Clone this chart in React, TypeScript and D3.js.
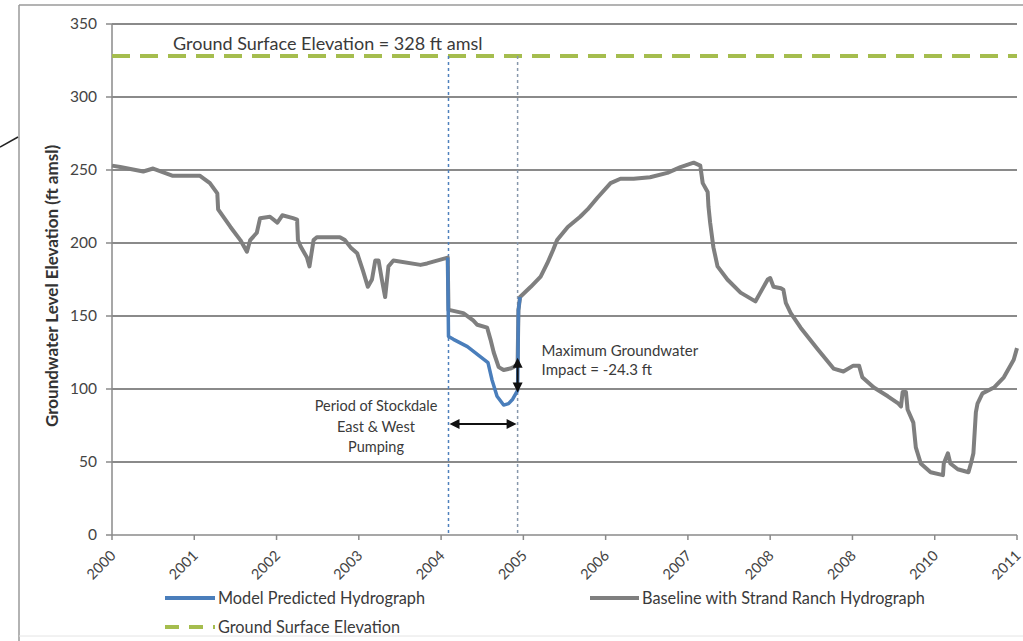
import React from "react";
import * as d3 from "d3";

const baselineYears = [2000.0,2000.1,2000.38,2000.5,2000.74,2001.07,2001.19,2001.28,2001.29,2001.44,2001.56,2001.64,2001.68,2001.76,2001.8,2001.92,2002.01,2002.07,2002.2,2002.25,2002.26,2002.29,2002.37,2002.4,2002.45,2002.49,2002.77,2002.83,2002.9,2002.98,2003.05,2003.11,2003.16,2003.2,2003.24,2003.28,2003.32,2003.36,2003.42,2003.75,2003.83,2004.08,2004.09,2004.11,2004.27,2004.39,2004.44,2004.56,2004.6,2004.64,2004.7,2004.76,2004.84,2004.88,2004.93,2004.94,2004.96,2005.09,2005.21,2005.29,2005.36,2005.41,2005.54,2005.69,2005.78,2005.9,2006.06,2006.18,2006.34,2006.54,2006.75,2006.91,2007.07,2007.15,2007.18,2007.24,2007.25,2007.27,2007.31,2007.36,2007.48,2007.64,2007.82,2007.88,2007.97,2008.0,2008.04,2008.13,2008.16,2008.19,2008.25,2008.37,2008.58,2008.77,2008.89,2009.01,2009.08,2009.12,2009.26,2009.43,2009.56,2009.59,2009.61,2009.65,2009.67,2009.74,2009.77,2009.83,2009.95,2010.1,2010.11,2010.16,2010.19,2010.28,2010.41,2010.44,2010.47,2010.5,2010.52,2010.58,2010.72,2010.84,2010.96,2011.0];
const baselineValues = [253,252,249,251,246,246,241,234,223,211,202,194,202,207,217,218,214,219,217,216,202,198,190,184,202,204,204,202,197,193,181,170,175,188,188,175,163,184,188,185,186,190,154,154,152,147,144,142,134,125,115,113,114,115,117,154,163,170,177,186,195,202,211,218,223,231,241,244,244,245,248,252,255,253,241,235,225,214,197,184,175,166,160,166,175,176,170,169,168,159,152,142,127,114,112,116,116,108,101,95,90,88,98,98,86,77,60,49,43,41,49,56,49,45,43,49,56,84,90,97,101,108,120,128];

const modelYears = [2004.08,2004.09,2004.15,2004.32,2004.48,2004.57,2004.62,2004.68,2004.76,2004.82,2004.87,2004.93,2004.94,2004.96];
const modelValues = [190,136,134,129,122,118,106,95,89,90,93,99,154,163];

const groundSurface = 328;
const pumpStart = 2004.09;
const pumpEnd = 2004.93;
const impactTop = 120;
const impactBottom = 99;
const periodArrowLevel = 76;

const yTicks = [0, 50, 100, 150, 200, 250, 300, 350];
const xTickYears = [2000,2001,2002,2003,2004,2005,2006,2007,2008,2009,2010,2011];
const xTickLabels = ["2000","2001","2002","2003","2004","2005","2006","2007","2008","2008","2010","2011"];

const FONT = "Lato, 'Open Sans', sans-serif";

export default function App() {
  const W = 1023, H = 641;
  const x = d3.scaleLinear().domain([2000, 2011]).range([112, 1017]);
  const y = d3.scaleLinear().domain([0, 350]).range([535, 24]);

  const line = d3.line<[number, number]>().x(d => x(d[0])).y(d => y(d[1]));
  const baseline = baselineYears.map((t, i) => [t, baselineValues[i]] as [number, number]);
  const model = modelYears.map((t, i) => [t, modelValues[i]] as [number, number]);

  const gridColor = "#8a8a8a";
  const axisColor = "#8a8a8a";
  const textColor = "#3a3a3a";

  const ax = x(pumpEnd);
  const hy = y(periodArrowLevel);

  return (
    <svg width={W} height={H} style={{ position: "absolute", left: 0, top: 0, background: "#fff" }} fontFamily={FONT}>
      <rect x={0} y={0} width={W} height={H} fill="#fff" />
      {/* frame */}
      <line x1={19} y1={5} x2={W} y2={5} stroke="#9a9a9a" strokeWidth={1.5} />
      <line x1={19} y1={5} x2={19} y2={H} stroke="#9a9a9a" strokeWidth={1.5} />
      <line x1={19} y1={636} x2={W} y2={636} stroke="#e4e4e4" strokeWidth={1} />
      <line x1={0} y1={147} x2={18} y2={137} stroke="#222" strokeWidth={1.5} />

      {/* grid */}
      {yTicks.filter(v => v > 0).map(v => (
        <line key={v} x1={x(2000)} x2={x(2011)} y1={y(v)} y2={y(v)} stroke={gridColor} strokeWidth={2} />
      ))}
      {/* axes */}
      <line x1={x(2000)} x2={x(2000)} y1={y(350)} y2={y(0)} stroke={axisColor} strokeWidth={1.5} />
      <line x1={x(2000)} x2={x(2011)} y1={y(0)} y2={y(0)} stroke={axisColor} strokeWidth={1.5} />
      {yTicks.map(v => (
        <g key={v}>
          <line x1={x(2000) - 6} x2={x(2000)} y1={y(v)} y2={y(v)} stroke={axisColor} strokeWidth={1.5} />
          <text x={x(2000) - 15} y={y(v)} dy="0.35em" textAnchor="end" fontSize={15.5} fill="#444">{v}</text>
        </g>
      ))}
      {xTickYears.map((t, i) => (
        <g key={i}>
          <line x1={x(t)} x2={x(t)} y1={y(0)} y2={y(0) + 5} stroke={axisColor} strokeWidth={1.5} />
          <text transform={`translate(${x(t) + 1},${y(0) + 18}) rotate(-45)`} textAnchor="end" dy="0.35em" fontSize={14.5} fill="#444">{xTickLabels[i]}</text>
        </g>
      ))}
      <text transform={`translate(58,${286}) rotate(-90)`} textAnchor="middle" fontSize={17} fontWeight="bold" fill="#333">Groundwater Level Elevation  (ft amsl)</text>

      {/* ground surface */}
      <line x1={x(2000)} x2={x(2011)} y1={y(groundSurface)} y2={y(groundSurface)} stroke="#a5bd4e" strokeWidth={4} strokeDasharray="18,10" />
      <text x={173} y={50} fontSize={18} fill={textColor}>Ground Surface Elevation = 328 ft amsl</text>

      {/* period verticals */}
      <line x1={x(pumpStart)} x2={x(pumpStart)} y1={y(groundSurface)} y2={y(0)} stroke="#4f81bd" strokeWidth={1.5} strokeDasharray="3,3" />
      <line x1={x(pumpEnd)} x2={x(pumpEnd)} y1={y(groundSurface)} y2={y(0)} stroke="#8797ab" strokeWidth={1.5} strokeDasharray="3,3" />

      {/* series */}
      <path d={line(baseline) || ""} fill="none" stroke="#7f7f7f" strokeWidth={4} strokeLinejoin="round" />
      <path d={line(model) || ""} fill="none" stroke="#4a7ebb" strokeWidth={3.5} strokeLinejoin="round" />

      {/* impact arrow */}
      <line x1={ax} x2={ax} y1={y(impactTop) + 6} y2={y(impactBottom) - 6} stroke="#111" strokeWidth={2} />
      <path d={`M${ax},${y(impactTop) - 2} L${ax - 5},${y(impactTop) + 8} L${ax + 5},${y(impactTop) + 8} Z`} fill="#111" />
      <path d={`M${ax},${y(impactBottom) + 2} L${ax - 5},${y(impactBottom) - 8} L${ax + 5},${y(impactBottom) - 8} Z`} fill="#111" />
      <text x={ax + 24} y={356} fontSize={15} fill={textColor}>Maximum Groundwater</text>
      <text x={ax + 24} y={375} fontSize={15} fill={textColor}>Impact =  -24.3 ft</text>

      {/* period arrow */}
      <line x1={x(pumpStart) + 6} x2={ax - 6} y1={hy} y2={hy} stroke="#111" strokeWidth={2} />
      <path d={`M${x(pumpStart) + 1},${hy} L${x(pumpStart) + 11},${hy - 5} L${x(pumpStart) + 11},${hy + 5} Z`} fill="#111" />
      <path d={`M${ax - 1},${hy} L${ax - 11},${hy - 5} L${ax - 11},${hy + 5} Z`} fill="#111" />
      <text x={376} y={411} textAnchor="middle" fontSize={14.5} fill={textColor}>Period of Stockdale</text>
      <text x={376} y={432} textAnchor="middle" fontSize={14.5} fill={textColor}>East &amp; West</text>
      <text x={376} y={452} textAnchor="middle" fontSize={14.5} fill={textColor}>Pumping</text>

      {/* legend */}
      <line x1={165} x2={215} y1={598} y2={598} stroke="#4a7ebb" strokeWidth={4} />
      <text x={218} y={598} dy="0.35em" fontSize={16.3} fill={textColor}>Model Predicted Hydrograph</text>
      <line x1={165} x2={215} y1={627} y2={627} stroke="#a5bd4e" strokeWidth={4} strokeDasharray="14,10" />
      <text x={218} y={627} dy="0.35em" fontSize={16.3} fill={textColor}>Ground Surface Elevation</text>
      <line x1={590} x2={639} y1={598} y2={598} stroke="#7f7f7f" strokeWidth={4} />
      <text x={642} y={598} dy="0.35em" fontSize={16.3} fill={textColor}>Baseline with Strand Ranch Hydrograph</text>
    </svg>
  );
}
